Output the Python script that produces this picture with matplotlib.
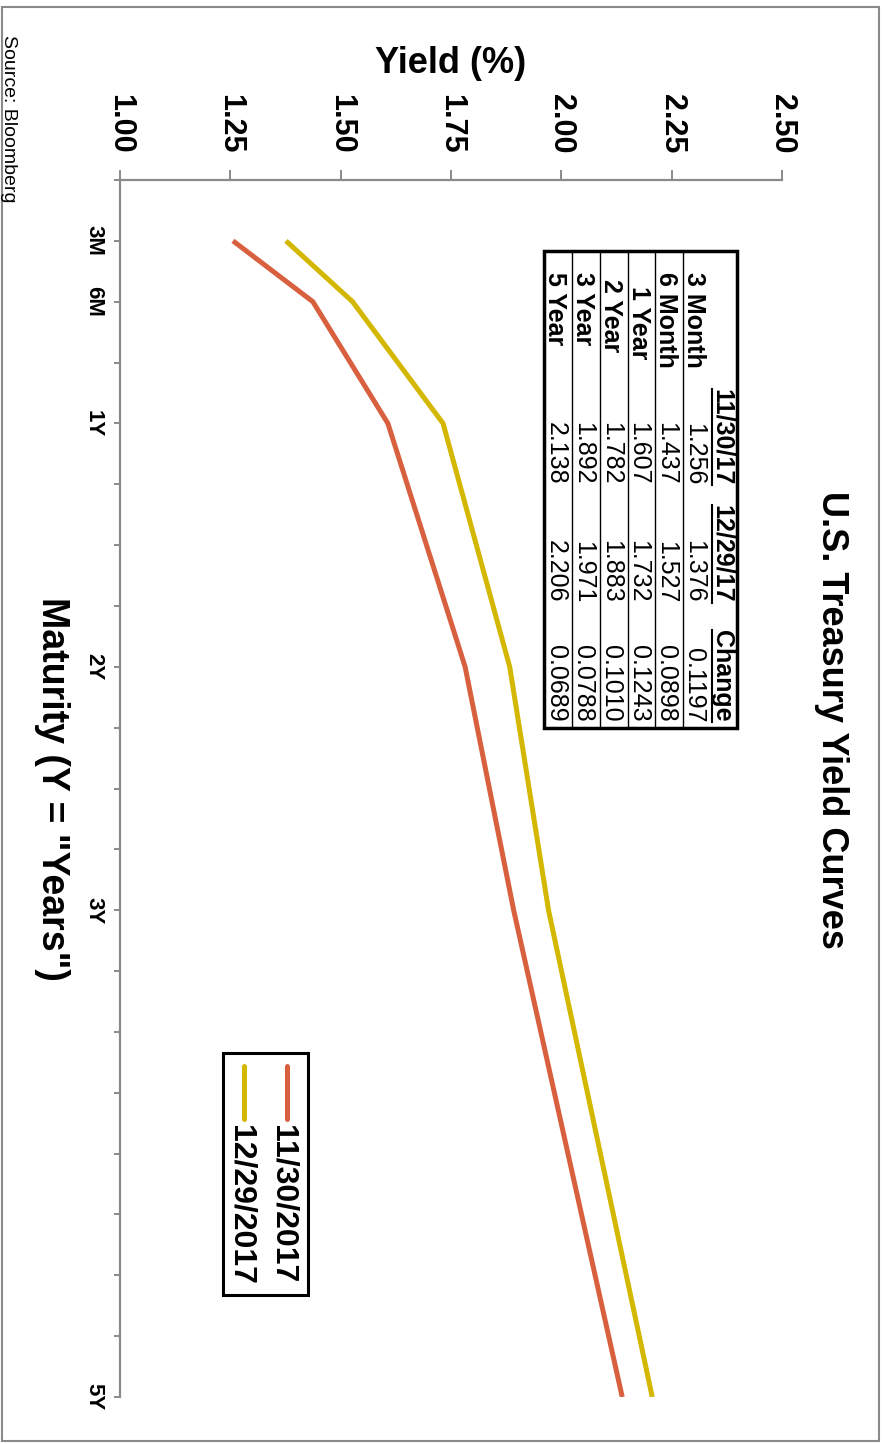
import matplotlib
matplotlib.use("Agg")
import matplotlib.pyplot as plt
from matplotlib.patches import Rectangle

plt.rcParams['font.family'] = ['Liberation Sans', 'DejaVu Sans']

# data
months = [3, 6, 12, 24, 36, 60]
yield_nov = [1.256, 1.437, 1.607, 1.782, 1.892, 2.138]
yield_dec = [1.376, 1.527, 1.732, 1.883, 1.971, 2.206]
change = ["0.1197", "0.0898", "0.1243", "0.1010", "0.0788", "0.0689"]
row_names = ["3 Month", "6 Month", "  1 Year", " 2 Year", "3 Year", "5 Year"]
col_names = ["11/30/17", "12/29/17", "Change"]
series_names = ["11/30/2017", "12/29/2017"]
yield_ticks = [1.00, 1.25, 1.50, 1.75, 2.00, 2.25, 2.50]
mat_ticks = [3, 6, 12, 24, 36, 60]
mat_labels = ["3M", "6M", "1Y", "2Y", "3Y", "5Y"]

red = '#D8603F'
yellow = '#D3B700'
gray = '#8a8a8a'

W, H = 884, 1444
fig = plt.figure(figsize=(W / 100, H / 100), dpi=100)

# main chart, drawn already turned a quarter turn clockwise
ax = fig.add_axes([120 / W, 1 - 1397 / H, 662 / W, 1217 / H])
ax.plot(yield_nov, months, color=red, lw=3.6, solid_capstyle='butt')
ax.plot(yield_dec, months, color=yellow, lw=3.6, solid_capstyle='butt')
ax.set_xlim(1.0, 2.5)
ax.set_ylim(60, 0)

for s in ['right', 'bottom']:
    ax.spines[s].set_visible(False)
for s in ['top', 'left']:
    ax.spines[s].set_color(gray)
    ax.spines[s].set_linewidth(1.6)

ax.xaxis.tick_top()
ax.set_xticks(yield_ticks, ["%.2f" % v for v in yield_ticks],
              fontweight='bold', fontsize=22, rotation=-90)
ax.tick_params(axis='x', length=7.2, width=1.4, color=gray, pad=12)

ax.set_yticks(range(0, 61, 3))
ax.set_yticklabels([mat_labels[mat_ticks.index(m)] if m in mat_ticks else ""
                    for m in range(0, 61, 3)],
                   fontweight='bold', fontsize=16, rotation=-90, va='center')
ax.tick_params(axis='y', length=4.5, width=1.4, color=gray, pad=7)

# overlay in pixel units for texts, table and legend
ov = fig.add_axes([0, 0, 1, 1])
ov.set_xlim(0, W)
ov.set_ylim(H, 0)
ov.axis('off')

ov.add_patch(Rectangle((2, 7), 877, 1434, fill=False, ec=gray, lw=1.5))

ov.text(822, 720, "U.S. Treasury Yield Curves", rotation=-90, rotation_mode='anchor',
        ha='center', va='baseline', fontsize=26, fontweight='bold')
ov.text(451, 73, "Yield (%)", ha='center', va='baseline', fontsize=26, fontweight='bold')
ov.text(42, 789, 'Maturity (Y = "Years")', rotation=-90, rotation_mode='anchor',
        ha='center', va='baseline', fontsize=27, fontweight='bold')
ov.text(4, 35, "Source: Bloomberg", rotation=-90, rotation_mode='anchor',
        ha='left', va='baseline', fontsize=14)

# table
ov.add_patch(Rectangle((544, 251), 193, 477, fill=False, ec='black', lw=2.5))
step = 27.7
for i in range(5):
    xl = 697 - step * (i + 0.5)
    ov.plot([xl, xl], [251, 728], color='black', lw=1)

col_end = [485, 603, 722]
heads = []
for j, c in enumerate(col_names):
    t = ov.text(715, col_end[j], c, rotation=-90, rotation_mode='anchor',
                ha='right', va='baseline', fontsize=18, fontweight='bold')
    heads.append(t)

for i in range(6):
    xb = 687 - step * i
    ov.text(xb, 272, row_names[i], rotation=-90, rotation_mode='anchor',
            ha='left', va='baseline', fontsize=18, fontweight='bold')
    vals = ["%.3f" % yield_nov[i], "%.3f" % yield_dec[i], change[i]]
    for j, v in enumerate(vals):
        ov.text(xb, col_end[j], v, rotation=-90, rotation_mode='anchor',
                ha='right', va='baseline', fontsize=18)

# underline the column heads
fig.canvas.draw()
inv = ov.transData.inverted()
for t in heads:
    bb = t.get_window_extent()
    (_, y0), (_, y1) = inv.transform([[bb.x0, bb.y0], [bb.x1, bb.y1]])
    ov.plot([711.5, 711.5], [min(y0, y1), max(y0, y1)], color='black', lw=1.5)

# legend
ov.add_patch(Rectangle((223, 1053), 85, 242, fill=False, ec='black', lw=2.2))
for x, col, name in [(287, red, series_names[0]), (244, yellow, series_names[1])]:
    ov.plot([x, x], [1066, 1119], color=col, lw=3.6, solid_capstyle='round')
    ov.text(x - 12, 1125, name, rotation=-90, rotation_mode='anchor',
            ha='left', va='baseline', fontsize=23, fontweight='bold')

fig.savefig("out.png", dpi=100)
